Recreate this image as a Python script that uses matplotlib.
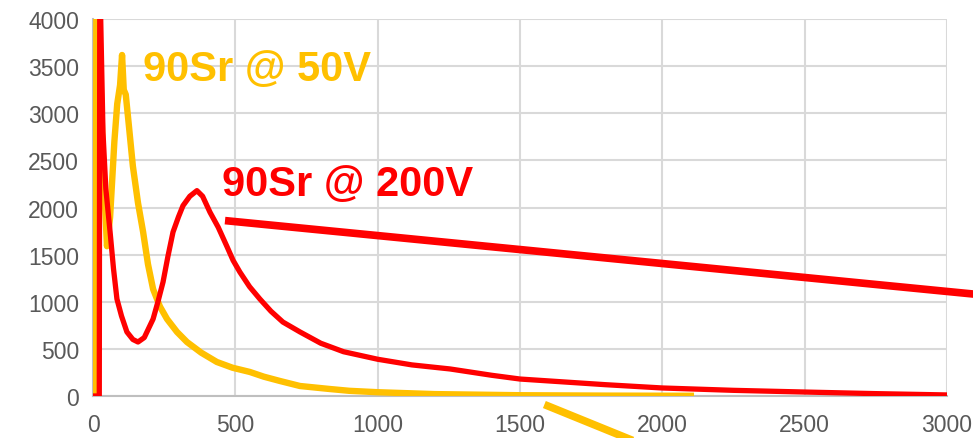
import matplotlib
matplotlib.use("Agg")
import matplotlib.pyplot as plt

# ------------------------- Data -------------------------

# 90Sr @ 200V (red)
x_200 = [0, 22, 24, 27, 35, 45, 60, 72, 84, 100, 119, 140, 158, 180, 211, 228, 246,
         263, 281, 300, 316, 340, 365, 385, 411, 440, 470, 492, 516, 550, 586, 625,
         667, 727, 800, 880, 1000, 1120, 1254, 1400, 1500, 1650, 1800, 2000, 2250,
         2500, 2750, 3000]
y_200 = [0, 0, 5000, 4000, 2800, 2200, 1740, 1350, 1030, 850, 680, 600, 573, 620,
         817, 1000, 1210, 1480, 1740, 1900, 2020, 2120, 2180, 2120, 1950, 1790, 1590,
         1440, 1315, 1160, 1030, 900, 785, 680, 560, 470, 390, 330, 287, 220, 180,
         150, 120, 85, 60, 42, 25, 11]

# 90Sr @ 50V (yellow)
x_50 = [0, 10, 12, 20, 35, 49, 60, 75, 85, 95, 102, 108, 115, 125, 140, 158, 176,
        193, 211, 235, 260, 295, 330, 380, 435, 490, 551, 600, 657, 727, 832, 900,
        1000, 1200, 1500, 1800, 2100]
y_50 = [0, 0, 5000, 4000, 2500, 1590, 1900, 2700, 3100, 3300, 3620, 3250, 3200,
        2900, 2440, 2050, 1740, 1400, 1135, 950, 817, 680, 573, 460, 361, 300, 255,
        205, 159, 106, 74, 55, 40, 20, 8, 4, 2]

# callout lines (data coords)
red_call_x = [477, 3090]
red_call_y = [1858, 1083]
yel_call_x = [1598, 2000]
yel_call_y = [-106, -600]

labels = ["90Sr @ 50V", "90Sr @ 200V"]
xticks = [0, 500, 1000, 1500, 2000, 2500, 3000]
yticks = [0, 500, 1000, 1500, 2000, 2500, 3000, 3500, 4000]

RED = "#FF0000"
YEL = "#FFC000"

# ------------------------- Plot -------------------------

plt.rcParams["font.family"] = ["Liberation Sans", "DejaVu Sans"]

fig = plt.figure(figsize=(9.73, 4.39), dpi=100)
ax = fig.add_axes([0.0956, 0.0957, 0.9733 - 0.0956, 0.954 - 0.0957])

ax.plot(x_50, y_50, color=YEL, lw=4.6, solid_joinstyle="round", zorder=3)
ax.plot(x_200, y_200, color=RED, lw=3.8, solid_joinstyle="round", zorder=4)

ax.plot(red_call_x, red_call_y, color=RED, lw=5.5, clip_on=False, zorder=5)
ax.plot(yel_call_x, yel_call_y, color=YEL, lw=5.5, clip_on=False, zorder=5)

ax.text(176, 3470, labels[0], color=YEL, fontsize=30, fontweight="bold", va="center", ha="left")
ax.text(453, 2250, labels[1], color=RED, fontsize=30, fontweight="bold", va="center", ha="left")

ax.set_xlim(0, 3000)
ax.set_ylim(0, 4000)
ax.set_xticks(xticks)
ax.set_yticks(yticks)
ax.grid(True, color="#D9D9D9", lw=1.5, zorder=0)
ax.set_axisbelow(True)

for s in ["top", "right"]:
    ax.spines[s].set_visible(False)
for s in ["left", "bottom"]:
    ax.spines[s].set_color("#BFBFBF")
    ax.spines[s].set_linewidth(1.5)

ax.tick_params(length=0, labelsize=16.5, labelcolor="#595959")
ax.tick_params(axis="y", pad=10)
ax.tick_params(axis="x", pad=12)

fig.savefig("out.png", dpi=100)
